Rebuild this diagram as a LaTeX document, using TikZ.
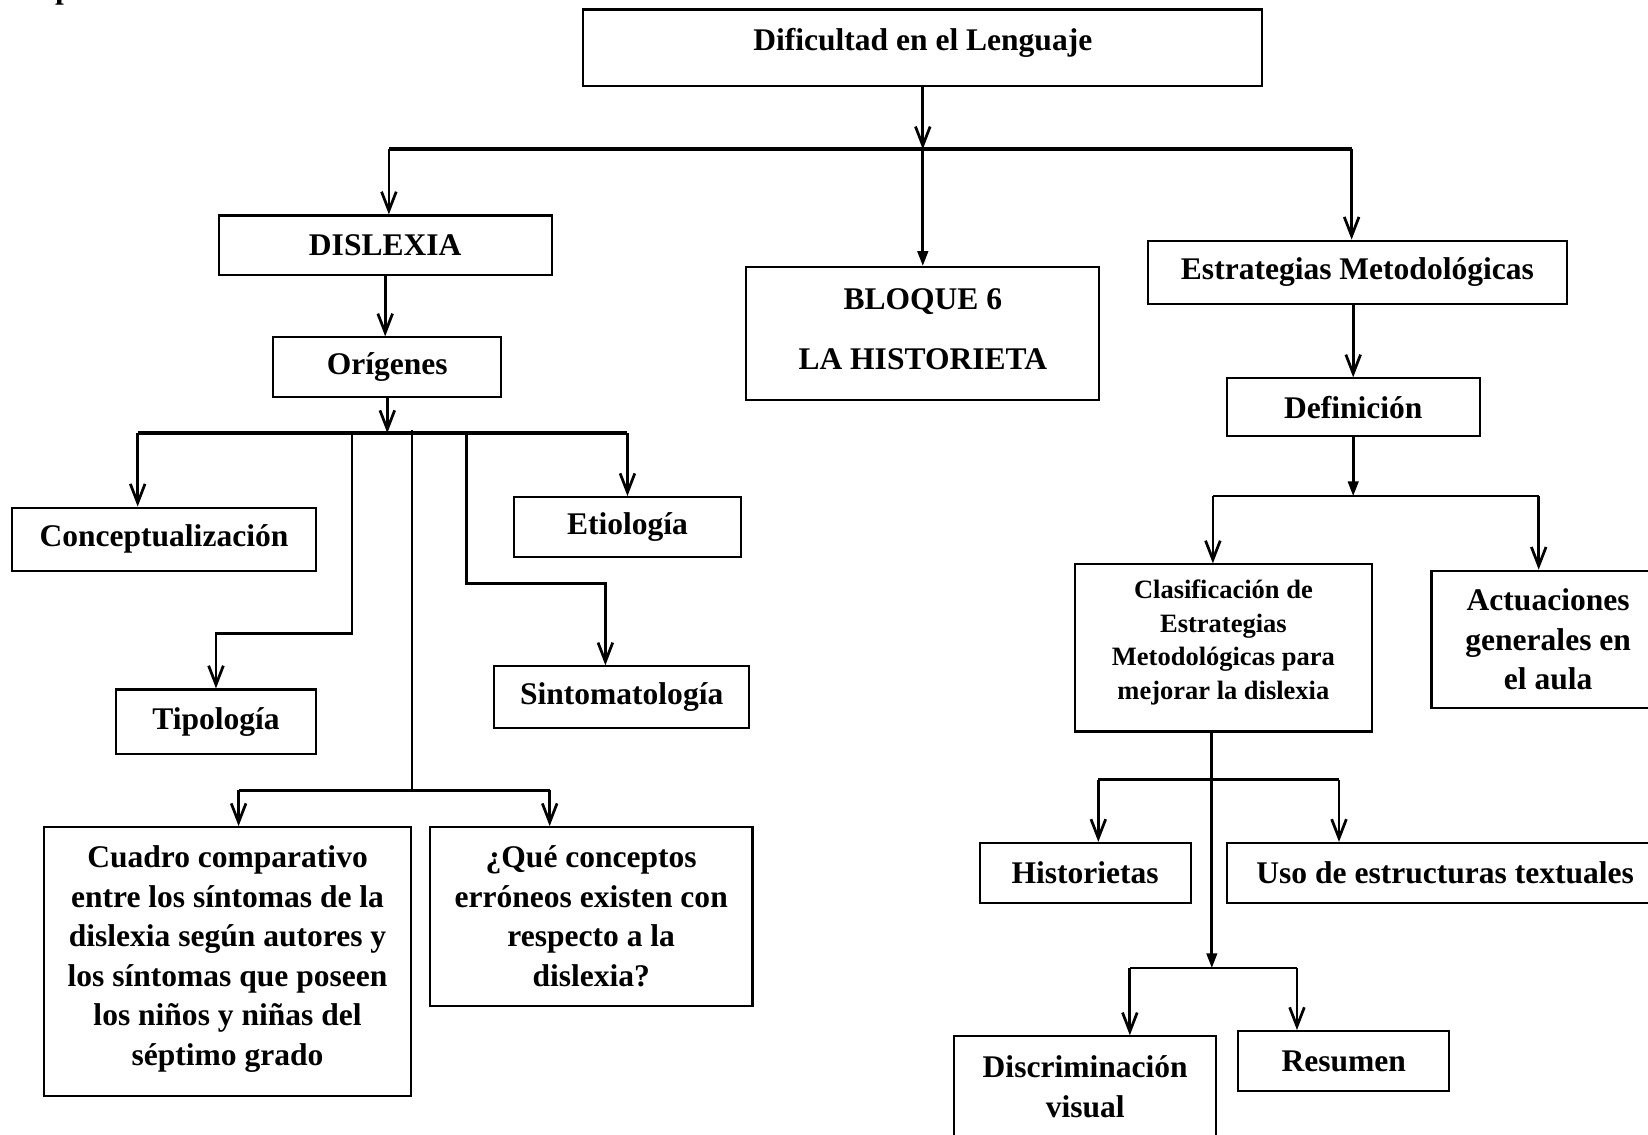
\documentclass[tikz,border=0pt]{standalone}
\usepackage{fontspec}
\setmainfont{Liberation Serif}
\usetikzlibrary{arrows.meta}

\tikzset{
  caja/.style={draw, line width=1pt, align=center, inner sep=0pt,
    font=\bfseries\fontsize{15}{18.8}\selectfont},
  linea/.style={line width=1.3pt},
  barra/.style={line width=2pt},
  flecha/.style={line width=1.3pt, -{Straight Barb[length=9pt,width=7pt]}},
  flechallena/.style={line width=1.3pt, -{Triangle[length=7pt,width=5pt]}}
}

\begin{document}
\begin{tikzpicture}[x=0.5pt,y=-0.5pt]
    \useasboundingbox (0,0) rectangle (1568,1079);
    \node[anchor=base west, font=\bfseries\fontsize{15}{18}\selectfont] (titulo) at (2,-1) {Mapa mental de la realidad temática};

    \node[caja, minimum width=323pt, minimum height=36.5pt, text depth=7.7pt] (dif) at (878,45.5) {Dificultad en el Lenguaje};
    \node[caja, minimum width=158.5pt, minimum height=28.5pt] (dis) at (366.5,233.5) {DISLEXIA};
    \node[caja, minimum width=168pt, minimum height=63.5pt, text depth=4pt] (bloque) at (878,317.5) {BLOQUE 6\\[9.7pt]LA HISTORIETA};
    \node[caja, minimum width=199.5pt, minimum height=30pt] (estr) at (1291.5,259) {Estrategias Metodológicas};
    \node[caja, minimum width=108.5pt, minimum height=28.5pt] (orig) at (368.5,349.5) {Orígenes};
    \node[caja, minimum width=120.5pt, minimum height=27.5pt] (defi) at (1287.5,387.5) {Definición};
    \node[caja, minimum width=145pt, minimum height=30pt] (conc) at (156,513) {Conceptualización};
    \node[caja, minimum width=108pt, minimum height=28.5pt] (etio) at (597,501.5) {Etiología};
    \node[caja, minimum width=95.5pt, minimum height=30.5pt] (tipo) at (205.5,686.5) {Tipología};
    \node[caja, minimum width=121.5pt, minimum height=29.5pt] (sint) at (591.5,663.5) {Sintomatología};
    \node[caja, minimum width=174.5pt, minimum height=128pt, text depth=6pt] (cuad) at (216.5,915) {Cuadro comparativo\\entre los síntomas de la\\dislexia según autores y\\los síntomas que poseen\\los niños y niñas del\\séptimo grado};
    \node[caja, minimum width=153.5pt, minimum height=85pt] (que) at (562.5,872) {¿Qué conceptos\\erróneos existen con\\respecto a la\\dislexia?};
    \node[caja, minimum width=141pt, minimum height=79.5pt, text depth=8pt, font=\bfseries\fontsize{12.6}{15.9}\selectfont] (clas) at (1164,616.5) {Clasificación de\\Estrategias\\Metodológicas para\\mejorar la dislexia};
    \node[caja, minimum width=111pt, minimum height=65.5pt] (actu) at (1473,608.5) {Actuaciones\\generales en\\el aula};
    \node[caja, minimum width=100.5pt, minimum height=28.5pt] (hist) at (1032.5,830.5) {Historietas};
    \node[caja, minimum width=208pt, minimum height=28.5pt] (uso) at (1375,830.5) {Uso de estructuras textuales};
    \node[caja, minimum width=124.5pt, minimum height=48pt] (disc) at (1032.5,1034) {Discriminación\\visual};
    \node[caja, minimum width=100.5pt, minimum height=28.5pt] (resu) at (1278.5,1009.5) {Resumen};

    \coordinate (b1l) at (370,142);
    \coordinate (b1r) at (1286,142);
    \draw[barra] (b1l) -- (b1r);
    \draw[flecha] (dif.south) -- (dif.south |- b1l);
    \draw[flecha] (b1l) -- (b1l |- dis.north);
    \draw[flechallena] (dif.south |- b1l) -- (bloque.north);
    \draw[flecha] (b1r) -- (b1r |- estr.north);

    \draw[flecha] (dis.south) -- (dis.south |- orig.north);
    \coordinate (b2l) at (131,412);
    \coordinate (b2r) at (597,412);
    \draw[barra] (b2l) -- (b2r);
    \draw[flecha] (orig.south) -- (orig.south |- b2l);
    \draw[flecha] (b2l) -- (b2l |- conc.north);
    \draw[flecha] (b2r) -- (b2r |- etio.north);
    \coordinate (t1) at (335,412);
    \draw[flecha] (t1) -- (335,603) -| (tipo.north);
    \coordinate (s1) at (444,412);
    \coordinate (s2) at (576,555);
    \draw[flecha] (s1) |- (s2) -- (s2 |- sint.north);
    \coordinate (m1) at (392,409);
    \coordinate (m2) at (392,752);
    \draw[linea] (m1) -- (m2);
    \coordinate (b3l) at (227,752);
    \coordinate (b3r) at (523,752);
    \draw[linea] (b3l) -- (b3r);
    \draw[flecha] (b3l) -- (b3l |- cuad.north);
    \draw[flecha] (b3r) -- (b3r |- que.north);

    \draw[flecha] (defi.north |- estr.south) -- (defi.north);
    \coordinate (r1l) at (1154,472);
    \coordinate (r1r) at (1464,472);
    \draw[linea] (r1l) -- (r1r);
    \draw[flechallena] (defi.south) -- (defi.south |- r1l);
    \draw[flecha] (r1l) -- (r1l |- clas.north);
    \draw[flecha] (r1r) -- (r1r |- actu.north);
    \coordinate (r3) at (1153,921);
    \draw[flechallena] (clas.south -| r3) -- (r3);
    \coordinate (r2l) at (1045,742);
    \coordinate (r2r) at (1274,742);
    \draw[linea] (r2l) -- (r2r);
    \draw[flecha] (r2l) -- (r2l |- hist.north);
    \draw[flecha] (r2r) -- (r2r |- uso.north);
    \coordinate (r3l) at (1075,921);
    \coordinate (r3r) at (1234,921);
    \draw[linea] (r3l) -- (r3r);
    \draw[flecha] (r3l) -- (r3l |- disc.north);
    \draw[flecha] (r3r) -- (r3r |- resu.north);
\end{tikzpicture}
\end{document}
